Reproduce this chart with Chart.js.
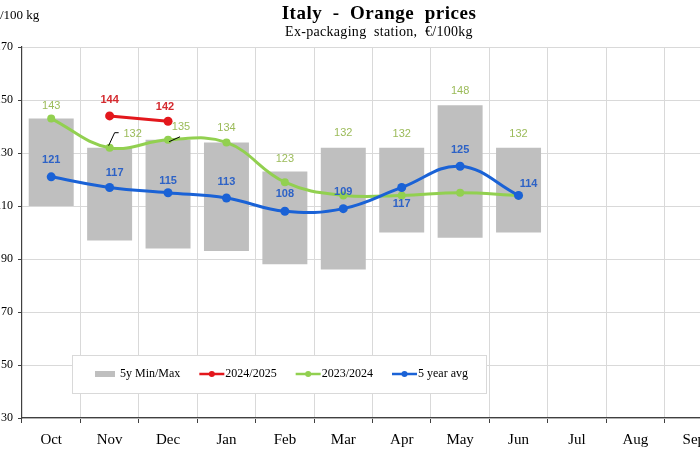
<!DOCTYPE html>
<html>
<head>
<meta charset="utf-8">
<script src="https://cdn.jsdelivr.net/npm/chart.js@4.4.1/dist/chart.umd.min.js"></script>
<style>
html, body { margin: 0; padding: 0; background: #fff; overflow: hidden; }
#wrap { position: relative; width: 700px; height: 450px; overflow: hidden; }
#chart { position: absolute; left: -30px; top: 0; }
</style>
</head>
<body>
<div id="wrap"><canvas id="chart" width="818" height="450"></canvas></div>
<script>
const months = ["Oct", "Nov", "Dec", "Jan", "Feb", "Mar", "Apr", "May", "Jun", "Jul", "Aug", "Sep"];
const rangeMin = [110, 97, 94, 93, 88, 86, 100, 98, 100];
const rangeMax = [143, 132, 135, 134, 123, 132, 132, 148, 132];
const season2425 = [null, 144, 142];
const season2324 = [143, 132, 135, 134, 119, 114, 114, 115, 114];
const fiveYearAvg = [121, 117, 115, 113, 108, 109, 117, 125, 114];
const yTicks = [30, 50, 70, 90, 110, 130, 150, 170];

const serif = "'Liberation Serif', 'Times New Roman', serif";
const sans = "'Liberation Sans', Arial, sans-serif";

const grey = "#bfbfbf";
const red = "#e3171c";
const green = "#92d050";
const blue = "#1a62d6";

// where each value label sits, relative to its bar top / point
const labelSets =
[
	{ dataset: 0, color: "#9bbb59", font: "11px " + sans,
		offsets: [[0, -13], [23, -14], [13, -13], [0, -14], [0, -13], [0, -15], [0, -14], [0, -14], [0, -14]],
		leaders: { 1: [[9, -15], [5, -15], [-1, -2]], 2: [[12, -3], [1, 2]] } },
	{ dataset: 1, color: "#d42a2f", font: "bold 11px " + sans,
		offsets: [null, [0, -16], [-3, -14]] },
	{ dataset: 3, color: "#2d62c6", font: "bold 11px " + sans,
		offsets: [[0, -17], [5, -14], [0, -12], [0, -16], [0, -17], [0, -17], [0, 17], [0, -16], [10, -11]] }
];

const valueLabels =
{
	id: "valueLabels",
	afterDatasetsDraw(chart)
	{
		const ctx = chart.ctx;
		ctx.save();
		ctx.textAlign = "center";
		ctx.textBaseline = "middle";

		for(const set of labelSets)
		{
			const meta = chart.getDatasetMeta(set.dataset);
			const data = chart.data.datasets[set.dataset].data;

			meta.data.forEach((el, i) =>
			{
				const off = set.offsets[i];
				if(!off || data[i] == null) return;

				const value = Array.isArray(data[i]) ? data[i][1] : data[i];

				const leader = set.leaders && set.leaders[i];
				if(leader)
				{
					ctx.strokeStyle = "#000";
					ctx.lineWidth = 1;
					ctx.beginPath();
					leader.forEach(([dx, dy], k) =>
					{
						if(k === 0) ctx.moveTo(el.x + dx, el.y + dy);
						else ctx.lineTo(el.x + dx, el.y + dy);
					});
					ctx.stroke();
				}

				ctx.fillStyle = set.color;
				ctx.font = set.font;
				ctx.fillText(String(value), el.x + off[0], el.y + off[1]);
			});
		}

		ctx.restore();
	}
};

const decorations =
{
	id: "decorations",
	afterDraw(chart)
	{
		const ctx = chart.ctx;
		const area = chart.chartArea;
		ctx.save();

		// titles
		ctx.fillStyle = "#000";
		ctx.textAlign = "center";
		ctx.textBaseline = "middle";
		ctx.letterSpacing = "0.5px";
		ctx.font = "bold 19px " + serif;
		ctx.fillText("Italy  -  Orange  prices", 409, 14);
		ctx.letterSpacing = "0.3px";
		ctx.font = "14px " + serif;
		ctx.fillText("Ex-packaging  station,  €/100kg", 409, 32);
		ctx.letterSpacing = "0px";

		// unit label
		ctx.textAlign = "left";
		ctx.font = "13px " + serif;
		ctx.fillText("€/100 kg", 23.5, 16);

		// legend
		const lx = area.left + 50, ly = 355, lw = 414, lh = 38;
		ctx.fillStyle = "#fff";
		ctx.fillRect(lx, ly, lw, lh);
		ctx.strokeStyle = "#d9d9d9";
		ctx.lineWidth = 1;
		ctx.strokeRect(lx + 0.5, ly + 0.5, lw, lh);

		const items =
		[
			{ text: "5y Min/Max", color: grey, bar: true },
			{ text: "2024/2025", color: red },
			{ text: "2023/2024", color: green },
			{ text: "5 year avg", color: blue }
		];

		ctx.font = "12px " + serif;
		const cy = ly + 19;
		let x = lx + 23;
		for(const item of items)
		{
			if(item.bar)
			{
				ctx.fillStyle = item.color;
				ctx.fillRect(x, cy - 3, 20, 6);
				x += 25;
			}
			else
			{
				ctx.strokeStyle = item.color;
				ctx.lineWidth = 2.5;
				ctx.beginPath();
				ctx.moveTo(x, cy);
				ctx.lineTo(x + 25, cy);
				ctx.stroke();
				ctx.fillStyle = item.color;
				ctx.beginPath();
				ctx.arc(x + 12.5, cy, 3, 0, Math.PI * 2);
				ctx.fill();
				x += 26;
			}
			ctx.fillStyle = "#000";
			ctx.fillText(item.text, x, cy);
			x += ctx.measureText(item.text).width + 19;
		}

		ctx.restore();
	}
};

new Chart(document.getElementById("chart"),
{
	type: "bar",
	data:
	{
		labels: months,
		datasets:
		[
			{
				label: "5y Min/Max",
				data: rangeMin.map((v, i) => [v, rangeMax[i]]),
				backgroundColor: grey,
				barPercentage: 0.77,
				categoryPercentage: 1,
				order: 4
			},
			{
				type: "line",
				label: "2024/2025",
				data: season2425,
				borderColor: red,
				backgroundColor: red,
				borderWidth: 3,
				pointRadius: 4.5,
				pointBorderWidth: 0,
				order: 2
			},
			{
				type: "line",
				label: "2023/2024",
				data: season2324,
				borderColor: green,
				backgroundColor: green,
				borderWidth: 3,
				pointRadius: 4,
				pointBorderWidth: 0,
				tension: 0.4,
				order: 3
			},
			{
				type: "line",
				label: "5 year avg",
				data: fiveYearAvg,
				borderColor: blue,
				backgroundColor: blue,
				borderWidth: 3,
				pointRadius: 4.5,
				pointBorderWidth: 0,
				tension: 0.4,
				order: 1
			}
		]
	},
	options:
	{
		responsive: false,
		animation: false,
		devicePixelRatio: 1,
		layout: { padding: { top: 47, left: 22, right: 65, bottom: 0 } },
		plugins:
		{
			legend: { display: false },
			tooltip: { enabled: false }
		},
		scales:
		{
			x:
			{
				offset: true,
				grid: { offset: true, color: "#d9d9d9", tickColor: "#404040", tickLength: 5 },
				border: { color: "#404040", width: 1.2 },
				ticks: { color: "#000", font: { family: serif, size: 15 }, padding: 8 },
				afterFit: scale => { scale.height = 32; }
			},
			y:
			{
				min: 30,
				max: 170,
				grid: { color: "#d9d9d9", tickColor: "#404040", tickLength: 4 },
				border: { color: "#404040", width: 1.2 },
				ticks: { color: "#000", font: { family: serif, size: 12 }, padding: 5 },
				afterBuildTicks: scale => { scale.ticks = yTicks.map(v => ({ value: v })); },
				afterFit: scale => { scale.width = 30; }
			}
		}
	},
	plugins: [valueLabels, decorations]
});
</script>
</body>
</html>
